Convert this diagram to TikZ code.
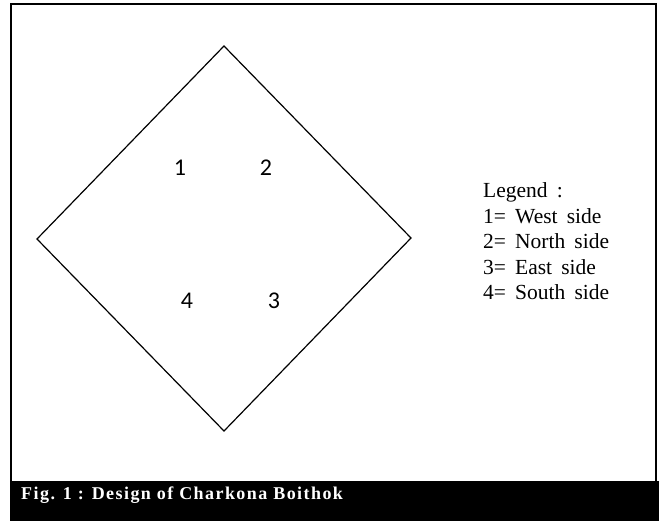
\documentclass[tikz,border=0pt]{standalone}
\usepackage{fontspec}
\setmainfont{Liberation Serif}
\newfontfamily\digitfont{Carlito}
\newfontfamily\legendfont[WordSpace=1.7]{Liberation Serif}
\begin{document}
\begin{tikzpicture}[x=1pt,y=-1pt,
  frame/.style={draw=black,line width=2.5pt},
  diamondline/.style={draw=black,line width=1.2pt,line join=miter},
  digit/.style={font=\digitfont\fontsize{24}{28}\selectfont,inner sep=0pt,anchor=base},
  legend/.style={font=\legendfont\fontsize{21.5}{25.5}\selectfont,anchor=base west,inner sep=0pt},
  caption/.style={font=\bfseries\fontsize{18}{20}\selectfont\addfontfeatures{LetterSpace=8},text=white,anchor=base west,inner sep=0pt}]
\useasboundingbox (0,0) rectangle (659,521);
\fill[white] (0,0) rectangle (659,521);
\draw[frame] (11,4) -- (656,4) -- (656,482) -- (11,482) -- cycle;
\fill[black] (10,481) rectangle (659,521);
\coordinate (T) at (224,46);
\coordinate (L) at (37,239);
\coordinate (B) at (224,431);
\coordinate (R) at (411,238);
\draw[diamondline] (T) -- (R) -- (B) -- (L) -- cycle;
\node[digit] (n1) at (180,176) {1};
\node[digit] (n2) at (266,176) {2};
\node[digit] (n4) at (187,309) {4};
\node[digit] (n3) at (274,309) {3};
\node[legend] (leg0) at (483,198) {Legend :};
\node[legend] (leg1) at (483,223.5) {1= West side};
\node[legend] (leg2) at (483,249) {2= North side};
\node[legend] (leg3) at (483,274.5) {3= East side};
\node[legend] (leg4) at (483,300) {4= South side};
\node[caption] (cap) at (21,499) {Fig. 1 : Design of Charkona Boithok};
\end{tikzpicture}
\end{document}
